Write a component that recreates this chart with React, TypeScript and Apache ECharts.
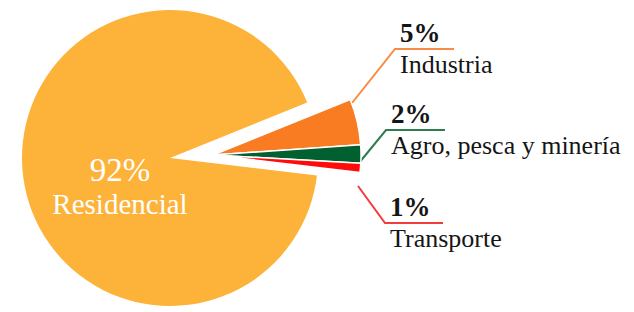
import React, { useEffect, useRef } from "react";
import * as echarts from "echarts";

// ---- data ----
const categories = ["Industria", "Agro, pesca y minería", "Transporte", "Residencial"];
const values = [5, 2, 1, 92];
const percentLabels = ["5%", "2%", "1%", "92%"];

// ---- style / layout ----
const sliceColors = ["#F97B22", "#00602F", "#FF0B0B", "#FDB239"];
const lineColors = ["#FA8B45", "#2E7D50", "#F23B3B"];
const START_ANGLE = 22;
const RADIUS = 148;
const MAIN_CENTER = [170, 158];
const EXPLODED_CENTER = [213, 155];
const FONT = "Liberation Serif";
const leaderLines: number[][][] = [
  [[352, 103], [395, 49], [454, 49]],
  [[359, 163], [386, 130], [445, 130]],
  [[358, 186], [385, 223], [443, 223]],
];
const mainLabelPos = [120, 187];

export default function App() {
  const ref = useRef<HTMLDivElement>(null);
  useEffect(() => {
    if (!ref.current) return;
    const chart = echarts.init(ref.current, null, { renderer: "svg" });
    const mainIdx = categories.length - 1;

    const mainData = categories.map((name, i) => ({
      name,
      value: values[i],
      itemStyle: { color: i === mainIdx ? sliceColors[i] : "rgba(0,0,0,0)" },
      label: { show: i === mainIdx },
      labelLine: { show: false },
    }));

    const explodedData = categories.map((name, i) => ({
      name,
      value: values[i],
      itemStyle:
        i === mainIdx
          ? { color: "rgba(0,0,0,0)", borderWidth: 0 }
          : { color: sliceColors[i], borderColor: "#ffffff", borderWidth: 1.5 },
      label: { show: i !== mainIdx },
      labelLine:
        i !== mainIdx
          ? { show: true, lineStyle: { color: lineColors[i], width: 2 } }
          : { show: false },
    }));

    chart.setOption({
      animation: false,
      textStyle: { fontFamily: FONT },
      series: [
        {
          type: "pie",
          silent: true,
          center: MAIN_CENTER,
          radius: RADIUS,
          startAngle: START_ANGLE,
          clockwise: true,
          avoidLabelOverlap: false,
          data: mainData,
          label: {
            position: "inside",
            fontFamily: FONT,
            formatter: (p: any) =>
              `{p|${percentLabels[p.dataIndex]}}\n{n|${p.name}}`,
            rich: {
              p: { fontFamily: FONT, fontSize: 33, color: "#fff", lineHeight: 34 },
              n: { fontFamily: FONT, fontSize: 29, color: "#fff", lineHeight: 34 },
            },
          },
          labelLayout: () => ({
            x: mainLabelPos[0],
            y: mainLabelPos[1],
            align: "center",
            verticalAlign: "middle",
          }),
        },
        {
          type: "pie",
          silent: true,
          center: EXPLODED_CENTER,
          radius: RADIUS,
          startAngle: START_ANGLE,
          clockwise: true,
          avoidLabelOverlap: false,
          data: explodedData,
          label: {
            position: "outside",
            fontFamily: FONT,
            formatter: (p: any) =>
              `{p|${percentLabels[p.dataIndex]}}\n{n|${p.name}}`,
            rich: {
              p: { fontFamily: FONT, fontSize: 27, fontWeight: "bold", color: "#151515", lineHeight: 30 },
              n: { fontFamily: FONT, fontSize: 26, color: "#151515", lineHeight: 32 },
            },
          },
          labelLine: { show: true, length: 20, length2: 40 },
          labelLayout: (params: any) => {
            const pts = leaderLines[params.dataIndex];
            if (!pts) return {};
            return {
              x: pts[1][0] + 5,
              y: pts[1][1],
              align: "left",
              verticalAlign: "middle",
              labelLinePoints: pts,
            };
          },
        },
      ],
    });
    return () => chart.dispose();
  }, []);

  return (
    <div
      ref={ref}
      style={{ position: "fixed", left: 0, top: 0, width: 634, height: 312, background: "#fff" }}
    />
  );
}
